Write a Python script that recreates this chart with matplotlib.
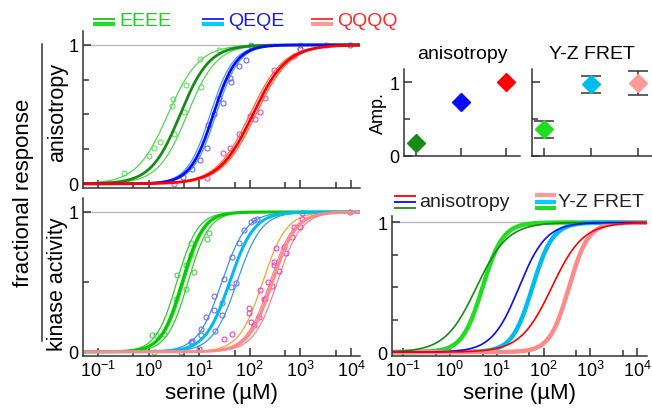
"""
Serine dose-response: anisotropy vs kinase activity, with Hill-fit comparison.
"""

import numpy as np
import matplotlib
matplotlib.use("Agg")
import matplotlib.pyplot as plt
import matplotlib.ticker as ticker
from matplotlib.lines import Line2D

plt.rcParams.update({
    "font.family": ["Liberation Sans", "DejaVu Sans"],
    "mathtext.fontset": "custom",
    "mathtext.rm": "Liberation Sans",
    "mathtext.it": "Liberation Sans:italic",
    "mathtext.bf": "Liberation Sans:bold",
    "axes.linewidth": 1.1,
    "axes.edgecolor": "#333333",
})

# -- Data --
# Hill fits: (EC50 in uM, Hill coefficient)
ANI_THICK = {"EEEE": (4.2, 1.5), "QEQE": (19.0, 1.9), "QQQQ": (115.0, 1.3)}
ANI_THIN = {
    "EEEE": [(2.4, 1.4), (5.8, 1.5)],
    "QEQE": [(16.5, 1.9), (21.5, 1.9)],
    "QQQQ": [(100.0, 1.3), (132.0, 1.3)],
}
KIN_THICK = {"EEEE": (4.6, 2.1), "QEQE": (40.0, 1.8), "QQQQ": (280.0, 1.85)}
KIN_THIN = {
    "EEEE": [(3.6, 2.1), (5.0, 2.1), (6.0, 2.1)],
    "QEQE": [(28.0, 1.8), (40.0, 1.8), (56.0, 1.8)],
    "QQQQ": [(180.0, 1.85), (250.0, 1.85), (350.0, 1.85)],
}
# overlay panel (bottom right)
CMP_ANI = {"EEEE": (3.7, 1.3), "QEQE": (30.0, 1.5), "QQQQ": (150.0, 1.3)}
CMP_FRET = {"EEEE": (5.0, 2.0), "QEQE": (58.0, 2.0), "QQQQ": (350.0, 2.1)}

# measured points, anisotropy
ANI_E_X = [0.32, 1.0, 1.26, 1.66, 3.16, 3.0, 2.95, 5.0, 5.4, 10.2, 10.7, 24.5, 105, 1000]
ANI_E_Y = [0.08, 0.20, 0.26, 0.30, 0.36, 0.61, 0.56, 0.52, 0.71, 0.90, 0.70, 0.96, 1.0, 1.0]
ANI_Q1_X = [4.7, 7.2, 10.2, 14.5, 14.8, 20.0, 25.0, 29, 41, 43, 60, 83, 105, 1000, 9800]
ANI_Q1_Y = [0.05, 0.11, 0.17, 0.26, 0.42, 0.50, 0.62, 0.58, 0.76, 0.73, 0.85, 0.89, 0.99, 0.97, 1.0]
ANI_Q4_X = [3.2, 14.5, 29.5, 40, 60, 100, 129, 158, 204, 302, 741, 1000, 3160]
ANI_Q4_Y = [0.0, 0.04, 0.22, 0.26, 0.36, 0.49, 0.47, 0.52, 0.62, 0.82, 0.92, 0.97, 1.0]

# measured points, kinase activity
KIN_E_X = [1.17, 1.38, 2.0, 3.4, 3.7, 5.4, 5.4, 6.8, 6.9, 7.9, 14.5, 15.5, 1.26]
KIN_E_Y = [0.12, 0.12, 0.13, 0.38, 0.55, 0.45, 0.62, 0.69, 0.78, 0.57, 0.81, 0.85, 0.0]
KIN_Q1_X = [4.3, 6.8, 7.2, 9.8, 10.7, 10.7, 13.5, 19.5, 19.5, 20.9, 28.8, 28.8, 30.9,
            41.7, 52.5, 44.7, 60.3, 75.9, 105, 120, 141]
KIN_Q1_Y = [0.0, 0.07, 0.08, 0.02, 0.12, 0.16, 0.25, 0.30, 0.40, 0.15, 0.26, 0.35, 0.52,
            0.46, 0.49, 0.68, 0.78, 0.87, 0.93, 0.94, 0.95]
KIN_Q4_X = [31, 45, 95, 95, 105, 120, 151, 162, 191, 204, 224, 275, 302, 302, 324, 380,
            468, 513, 692, 741, 1000, 1096, 1096, 9800]
KIN_Q4_Y = [0.09, 0.13, 0.28, 0.31, 0.21, 0.19, 0.25, 0.44, 0.38, 0.38, 0.50, 0.47, 0.62,
            0.64, 0.74, 0.58, 0.75, 0.71, 0.82, 0.89, 0.89, 0.95, 0.99, 1.0]

# amplitudes
AMP_POS = [1, 2, 3]
AMP_ANI = [0.18, 0.73, 1.0]
AMP_FRET = [0.36, 0.97, 0.99]
AMP_FRET_ERR = [0.11, 0.11, 0.16]

XTICKS = [0.1, 1, 10, 100, 1000, 10000]
XMINOR = [0.05, 0.5, 5, 50, 500, 5000]


def hill(x, ec50, n):
    return x ** n / (ec50 ** n + x ** n)


def style_log_axes(ax, xlim, ylim, yminor):
    ax.set_xscale("log")
    ax.set_xlim(*xlim)
    ax.set_ylim(*ylim)
    ax.xaxis.set_major_locator(ticker.FixedLocator(XTICKS))
    ax.xaxis.set_minor_locator(ticker.FixedLocator(XMINOR))
    ax.xaxis.set_minor_formatter(ticker.NullFormatter())
    ax.set_yticks([0, 1])
    ax.set_yticklabels(["0", "1"])
    ax.yaxis.set_minor_locator(ticker.FixedLocator(yminor))
    ax.axhline(1, color="#bbbbbb", lw=1, zorder=0)
    for s in ["top", "right"]:
        ax.spines[s].set_visible(False)
    ax.tick_params(which="both", direction="in", labelsize=13, pad=3, color="#333333")
    ax.tick_params(which="major", length=6, width=1.1)
    ax.tick_params(which="minor", length=4, width=1.1)


W, H = 652, 410
fig = plt.figure(figsize=(W / 100, H / 100), dpi=100)


def box(x0, y0, x1, y1):
    # pixel box -> figure fraction
    return [x0 / W, 1 - y1 / H, (x1 - x0) / W, (y1 - y0) / H]


ax_a = fig.add_axes(box(83, 32, 360, 189))
ax_k = fig.add_axes(box(83, 199, 360, 357))
ax_c = fig.add_axes(box(392, 217, 647, 357))
ax_amp1 = fig.add_axes(box(404, 70, 520, 157))
ax_amp2 = fig.add_axes(box(532, 70, 652, 157))

xs = np.logspace(-1.3, 4.2, 400)
XL = (10 ** -1.3, 10 ** 4.18)

# === anisotropy ===
thin_a = {"EEEE": "#4fd84f", "QEQE": "#3a9cff", "QQQQ": "#ff6a3a"}
thick_a = {"EEEE": "#168c16", "QEQE": "#0a0aff", "QQQQ": "#ff0000"}
pts_a = {"EEEE": "#66dd66", "QEQE": "#6a6af0", "QQQQ": "#f050b0"}
for key in ["EEEE", "QEQE", "QQQQ"]:
    for ec, n in ANI_THIN[key]:
        ax_a.plot(xs, hill(xs, ec, n), color=thin_a[key], lw=0.9)
for key, (px, py) in zip(["EEEE", "QEQE", "QQQQ"],
                         [(ANI_E_X, ANI_E_Y), (ANI_Q1_X, ANI_Q1_Y), (ANI_Q4_X, ANI_Q4_Y)]):
    ax_a.plot(px, py, "o", ms=3.6, mfc="none", mec=pts_a[key], mew=0.8)
for key in ["EEEE", "QEQE", "QQQQ"]:
    ec, n = ANI_THICK[key]
    ax_a.plot(xs, hill(xs, ec, n), color=thick_a[key], lw=2.0)
style_log_axes(ax_a, XL, (-0.03, 1.10), [0.25, 0.5, 0.75])
ax_a.set_xticklabels([])

# === kinase activity ===
thin_k = {"EEEE": ["#33cc33"] * 3, "QEQE": ["#3399ee"] * 3,
          "QQQQ": ["#ffa030", "#ff8090", "#ff8090"]}
thick_k = {"EEEE": "#00cc00", "QEQE": "#00bbee", "QQQQ": "#ff8a8a"}
pts_k = {"EEEE": "#55cc55", "QEQE": "#7070ee", "QQQQ": "#ee44bb"}
for key in ["EEEE", "QEQE", "QQQQ"]:
    for (ec, n), c in zip(KIN_THIN[key], thin_k[key]):
        ax_k.plot(xs, hill(xs, ec, n), color=c, lw=0.9)
for key, (px, py) in zip(["EEEE", "QEQE", "QQQQ"],
                         [(KIN_E_X, KIN_E_Y), (KIN_Q1_X, KIN_Q1_Y), (KIN_Q4_X, KIN_Q4_Y)]):
    ax_k.plot(px, py, "o", ms=3.6, mfc="none", mec=pts_k[key], mew=0.8)
for key in ["EEEE", "QEQE", "QQQQ"]:
    ec, n = KIN_THICK[key]
    ax_k.plot(xs, hill(xs, ec, n), color=thick_k[key], lw=2.2)
style_log_axes(ax_k, XL, (-0.03, 1.10), [0.5])
ax_k.set_xlabel("serine (µM)", fontsize=16, labelpad=1)

# === overlay ===
for key in ["EEEE", "QEQE", "QQQQ"]:
    ec, n = CMP_FRET[key]
    ax_c.plot(xs, hill(xs, ec, n), color=thick_k[key] if key != "EEEE" else "#22dd22", lw=3.2)
for key in ["EEEE", "QEQE", "QQQQ"]:
    ec, n = CMP_ANI[key]
    ax_c.plot(xs, hill(xs, ec, n), color=thick_a[key], lw=1.2)
style_log_axes(ax_c, (10 ** -1.235, 10 ** 4.21), (-0.03, 1.05), [0.25, 0.5, 0.75])
ax_c.set_xlabel("serine (µM)", fontsize=16, labelpad=1)

# === amplitudes ===
ax_amp1.plot(AMP_POS[0], AMP_ANI[0], "D", color="#168c16", ms=9)
ax_amp1.plot(AMP_POS[1], AMP_ANI[1], "D", color="#0a0aff", ms=9)
ax_amp1.plot(AMP_POS[2], AMP_ANI[2], "D", color="#ff0000", ms=9)
fret_cols = ["#22dd22", "#00bbee", "#ff9a9a"]
for i in range(3):
    ax_amp2.errorbar(AMP_POS[i], AMP_FRET[i], yerr=AMP_FRET_ERR[i], fmt="D",
                     color=fret_cols[i], ms=9, ecolor="#333333", elinewidth=1.1,
                     capsize=7, capthick=1.1, zorder=3)
for ax, title in [(ax_amp1, "anisotropy"), (ax_amp2, "Y-Z FRET")]:
    ax.set_xlim(0.74, 3.3)
    ax.set_ylim(0, 1.18)
    ax.set_xticks(AMP_POS)
    ax.set_xticklabels([])
    ax.set_yticks([0, 1])
    ax.yaxis.set_minor_locator(ticker.FixedLocator([0.5]))
    for s in ["top", "right"]:
        ax.spines[s].set_visible(False)
    ax.tick_params(which="both", direction="in", labelsize=13, pad=3, color="#333333")
    ax.tick_params(which="major", length=6, width=1.1)
    ax.tick_params(which="minor", length=4, width=1.1)
    ax.set_title(title, fontsize=14, pad=8)
    for p in ax.spines.values():
        p.set_clip_on(False)
ax_amp1.set_yticklabels(["0", "1"])
ax_amp2.set_yticklabels([])
ax_amp1.set_ylabel("Amp.", fontsize=13, labelpad=2)

# === left-side labels ===
fig.text(58 / W, 1 - 112 / H, "anisotropy", rotation=90, ha="center", va="center", fontsize=15.5)
fig.text(58 / W, 1 - 284 / H, "kinase activity", rotation=90, ha="center", va="center", fontsize=15.5)
fig.text(24 / W, 1 - 193 / H, "fractional response", rotation=90, ha="center", va="center", fontsize=16)
fig.add_artist(Line2D([42 / W, 42 / W], [1 - 45 / H, 1 - 342 / H], color="#333333", lw=1.1))

# === top legend ===
def fig_line(x0, x1, y, color, lw):
    fig.add_artist(Line2D([x0 / W, x1 / W], [1 - y / H, 1 - y / H], color=color, lw=lw,
                          solid_capstyle="butt"))


for x0, top_c, bot_c, text, tcol in [
    (93, "#22bb22", "#22dd22", "EEEE", "#22cc22"),
    (202, "#1a1aee", "#00ccff", "QEQE", "#1a1aee"),
    (311, "#ff2a2a", "#ff9a9a", "QQQQ", "#ff2a2a"),
]:
    fig_line(x0, x0 + 22, 19.5, top_c, 1.3)
    fig_line(x0, x0 + 22, 25, bot_c, 3.0)
    fig.text((x0 + 26) / W, 1 - 22 / H, text, color=tcol, fontsize=14, va="center", ha="left")

# === overlay legend ===
for i, c in enumerate(["#ff0000", "#0a0aff", "#168c16"]):
    fig_line(394, 416, 197 + 6 * i, c, 1.3)
fig.text(419 / W, 1 - 203 / H, "anisotropy", fontsize=14, va="center", ha="left", color="#222222")
for i, c in enumerate(["#ff9a9a", "#00ccff", "#22dd22"]):
    fig_line(535, 556, 196 + 6.5 * i, c, 3.0)
fig.text(558 / W, 1 - 203 / H, "Y-Z FRET", fontsize=14, va="center", ha="left", color="#222222")

fig.savefig("out.png", dpi=100)
